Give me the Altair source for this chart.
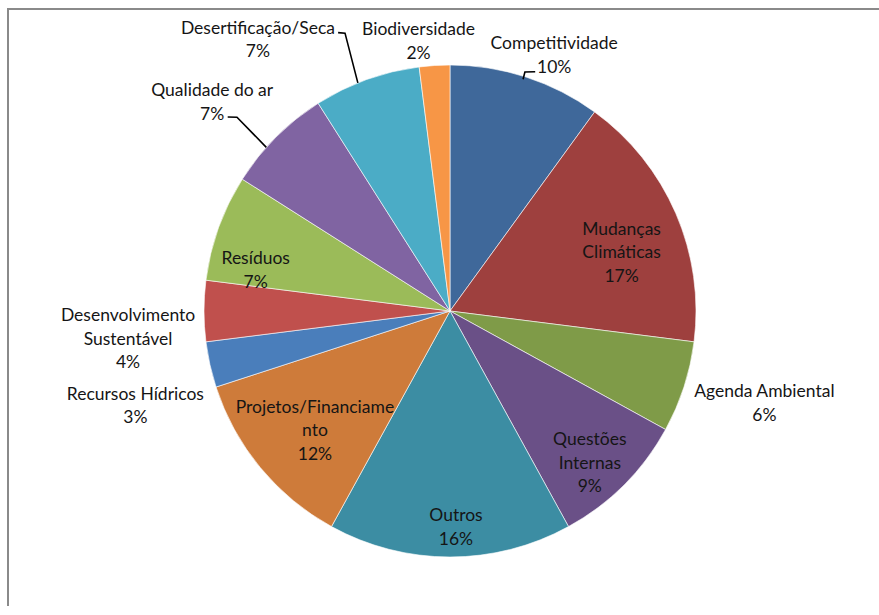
import altair as alt
import pandas as pd

# ---- data ----
categories = ["Competitividade", "Mudanças Climáticas", "Agenda Ambiental",
              "Questões Internas", "Outros", "Projetos/Financiamento",
              "Recursos Hídricos", "Desenvolvimento Sustentável", "Resíduos",
              "Qualidade do ar", "Desertificação/Seca", "Biodiversidade"]
values = [10, 17, 6, 9, 16, 12, 3, 4, 7, 7, 7, 2]
label_lines = ["Competitividade\n10%", "Mudanças\nClimáticas\n17%", "Agenda Ambiental\n6%",
               "Questões\nInternas\n9%", "Outros\n16%", "Projetos/Financiame\nnto\n12%",
               "Recursos Hídricos\n3%", "Desenvolvimento\nSustentável\n4%", "Resíduos\n7%",
               "Qualidade do ar\n7%", "Desertificação/Seca\n7%", "Biodiversidade\n2%"]

# ---- style / layout ----
colors = ["#3F689A", "#9E403E", "#7F9B48", "#6A5087", "#3C8DA3", "#CE7B3A",
          "#4A7EBB", "#C0504D", "#9BBB59", "#8064A2", "#4BACC6", "#F79646"]
label_radius = [278, 182, 327, 205, 214, 179, 328, 323, 199, 318, 334, 274]
label_shift = [4, 3.9, -2, 2, -1.6, -1.4, -3.8, -4.6, -7.3, -3.4, -15.3, -3]
CX, CY, R = 450, 311, 246
LH = 23.5

# leader lines given in polar form (angle in degrees, radius)
leaders = {
    "Competitividade": [(19.6, 254), (17.4, 250.5), (17.5, 243)],
    "Qualidade do ar": [(311.1, 295), (312.3, 288), (311.7, 246)],
    "Desertificação/Seca": [(338.1, 300), (339.3, 297), (338.0, 246)],
}

df = pd.DataFrame({
    "idx": list(range(len(categories))),
    "category": categories,
    "value": values,
    "label": label_lines,
    "lr": label_radius,
    "shift": label_shift,
})

lead_rows = []
for k, (name, pts) in enumerate(leaders.items()):
    for j, (a, r) in enumerate(pts):
        lead_rows.append({"lid": k, "o": j, "ang": a, "r": r})
lead_df = pd.DataFrame(lead_rows)

color_scale = alt.Scale(domain=categories, range=colors)

# frame: left and top edges of the chart box
frame_df = pd.DataFrame({"fx": [8, 8, 1000], "fy": [1000, 9, 9], "o": [0, 1, 2]})
frame = alt.Chart(frame_df).mark_line(color="#8a8a8a", strokeWidth=2).encode(
    x=alt.X("fx:Q", scale=None, axis=None),
    y=alt.Y("fy:Q", scale=None, axis=None),
    order="o:Q",
)

pie = alt.Chart(df).mark_arc(outerRadius=R, stroke="#ffffff", strokeWidth=0.6).encode(
    theta=alt.Theta("value:Q", stack=True),
    order=alt.Order("idx:Q"),
    color=alt.Color("category:N", scale=color_scale, legend=None),
    x=alt.value(CX), y=alt.value(CY),
)

labels = alt.Chart(df).transform_window(
    cum="sum(value)", sort=[alt.SortField("idx")], frame=[None, 0]
).transform_joinaggregate(
    total="sum(value)"
).transform_calculate(
    mid="(datum.cum - datum.value/2)/datum.total*2*PI + datum.shift*PI/180",
    nl="length(split(datum.label, '\\n'))",
).transform_calculate(
    lx=f"{CX} + datum.lr*sin(datum.mid)",
    ly=f"{CY} - datum.lr*cos(datum.mid) - (datum.nl - 1)*{LH}/2",
).mark_text(
    font="Lato", fontSize=17.5, color="#151515", lineBreak="\n",
    lineHeight=LH, align="center", baseline="middle", dy=3
).encode(
    x=alt.X("lx:Q", scale=None, axis=None),
    y=alt.Y("ly:Q", scale=None, axis=None),
    text="label:N",
)

lines = alt.Chart(lead_df).transform_calculate(
    px=f"{CX} + datum.r*sin(datum.ang*PI/180)",
    py=f"{CY} - datum.r*cos(datum.ang*PI/180)",
).mark_line(color="black", strokeWidth=1.6).encode(
    x=alt.X("px:Q", scale=None, axis=None),
    y=alt.Y("py:Q", scale=None, axis=None),
    detail="lid:N",
    order="o:Q",
)

chart = alt.layer(frame, pie, lines, labels).properties(
    width=879, height=606, padding=0,
    autosize=alt.AutoSizeParams(type="none"),
    background="white",
).configure_view(stroke=None, clip=False)

chart.save("out.html", embed_options={"renderer": "svg", "actions": False})
